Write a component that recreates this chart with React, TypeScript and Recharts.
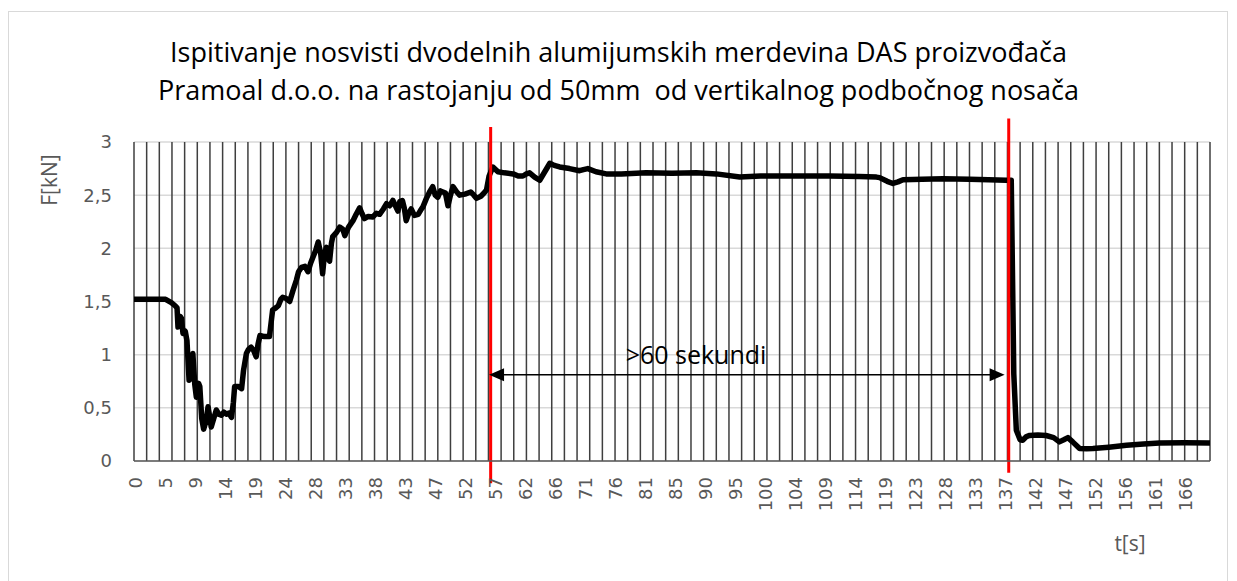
import { LineChart, Line, XAxis, YAxis, CartesianGrid, ReferenceLine } from 'recharts';

// measured force [kN] vs time [s]
const times = [
  0, 5, 5.9, 6.5, 6.8, 6.95, 7.3, 7.5, 7.74, 8.1, 8.37, 8.7, 9, 9.3, 9.6, 9.85, 10.2, 10.4, 10.7, 11,
  11.4, 11.7, 12, 12.2, 12.6, 13, 13.4, 13.8, 14.2, 14.6, 15, 15.4, 15.7, 15.9, 16.5, 17, 17.3, 17.75, 18.1, 18.5,
  18.9, 19.3, 19.6, 19.9, 20.6, 21.4, 21.9, 22.4, 22.8, 23.2, 23.5, 24, 24.6, 25.1, 25.65, 26, 26.45, 27, 27.5, 27.9,
  28.3, 28.7, 29.1, 29.5, 29.8, 30.1, 30.4, 30.7, 30.9, 31.2, 31.4, 32, 32.5, 33, 33.3, 33.9, 34.6, 35.1, 35.65, 36,
  36.4, 37, 37.75, 38.3, 38.8, 39.4, 39.9, 40.4, 40.9, 41.3, 41.7, 42, 42.4, 42.7, 43, 43.4, 43.8, 44.3, 44.9, 45.3,
  45.65, 46.2, 46.7, 47.2, 47.6, 48, 48.4, 48.8, 49.2, 49.6, 50, 50.4, 51, 51.45, 52.3, 53.2, 53.7, 54.1, 54.8, 55.3,
  55.7, 56.1, 56.7, 57.5, 58.5, 59.9, 60.7, 61.45, 62, 62.5, 63.3, 64.1, 64.9, 65.7, 66.4, 67.25, 68.8, 70.4, 71, 71.7,
  73, 74.6, 77, 80.9, 85, 88.85, 92, 95.7, 99, 102, 106, 109.9, 114.6, 117.3, 117.8, 119, 119.9, 120.7, 121.5, 124.5,
  127.8, 132, 135, 137.8, 138.6, 139, 139.4, 140, 140.4, 141, 141.5, 142.8, 144.1, 145.3, 146.2, 146.9, 147.55, 148.3, 149.4, 150.5,
  151.5, 154, 156.8, 159.5, 162, 166, 170,
];
const forces = [
  1.52, 1.52, 1.49, 1.46, 1.44, 1.26, 1.36, 1.34, 1.2, 1.22, 1.13, 0.76, 0.78, 1.01, 0.72, 0.6, 0.73, 0.7, 0.4, 0.3,
  0.38, 0.51, 0.4, 0.32, 0.4, 0.48, 0.44, 0.43, 0.46, 0.44, 0.45, 0.41, 0.55, 0.7, 0.7, 0.68, 0.85, 1.01, 1.05, 1.07,
  1.04, 0.98, 1.1, 1.18, 1.17, 1.17, 1.42, 1.44, 1.46, 1.52, 1.54, 1.53, 1.5, 1.6, 1.7, 1.78, 1.82, 1.83, 1.78, 1.86,
  1.92, 1.98, 2.06, 1.95, 1.76, 1.95, 2.01, 1.9, 1.88, 2.05, 2.11, 2.15, 2.2, 2.18, 2.12, 2.2, 2.26, 2.32, 2.38, 2.33,
  2.28, 2.3, 2.295, 2.33, 2.32, 2.37, 2.42, 2.4, 2.45, 2.4, 2.35, 2.44, 2.45, 2.38, 2.26, 2.33, 2.37, 2.31, 2.32, 2.36,
  2.39, 2.47, 2.53, 2.58, 2.5, 2.48, 2.54, 2.53, 2.52, 2.4, 2.5, 2.58, 2.53, 2.5, 2.51, 2.53, 2.5, 2.47, 2.49, 2.52,
  2.55, 2.68, 2.765, 2.72, 2.71, 2.7, 2.68, 2.68, 2.7, 2.71, 2.67, 2.64, 2.72, 2.8, 2.78, 2.765, 2.75, 2.73, 2.74, 2.75,
  2.72, 2.7, 2.7, 2.71, 2.705, 2.71, 2.7, 2.67, 2.68, 2.68, 2.68, 2.68, 2.675, 2.67, 2.665, 2.63, 2.61, 2.625, 2.645, 2.65,
  2.655, 2.65, 2.645, 2.64, 2.64, 0.82, 0.29, 0.2, 0.195, 0.23, 0.24, 0.245, 0.24, 0.22, 0.18, 0.2, 0.22, 0.18, 0.117, 0.115,
  0.117, 0.13, 0.148, 0.16, 0.17, 0.172, 0.17,
];

const xLabels = [
  '0', '5', '9', '14', '19', '24', '28', '33', '38', '43', '47', '52', '57', '62', '66', '71', '76', '81',
  '85', '90', '95', '100', '104', '109', '114', '119', '123', '128', '133', '137', '142', '147', '152', '156', '161', '166',
];
const yTicks = [0, 0.5, 1, 1.5, 2, 2.5, 3];
const titleLines = [
  'Ispitivanje nosvisti dvodelnih alumijumskih merdevina DAS proizvođača',
  'Pramoal d.o.o. na rastojanju od 50mm  od vertikalnog podbočnog nosača',
];
// start / end of the holding period (red markers)
const markerTimes = [56.35, 138.2];
const holdSpan = [56.1, 137.55];
const holdLabel = '>60 sekundi';

const T_MAX = 170;
const LABEL_STEP = 4.74; // category-label interval in seconds
const GRID_STEP = 2;

const data = times.map((t, i) => ({ t, f: forces[i] }));
const labelTicks = xLabels.map((_, i) => i * LABEL_STEP);
const gridTicks = Array.from({ length: T_MAX / GRID_STEP + 1 }, (_, i) => i * GRID_STEP);

const tickFont = { fontFamily: 'DejaVu Sans', fontSize: 18, fill: '#595959' };

const XTick = ({ x, y, index }: any) => (
  <text
    x={x + 1}
    y={y}
    transform={`rotate(-90 ${x + 1} ${y})`}
    textAnchor="end"
    dominantBaseline="central"
    {...tickFont}
  >
    {xLabels[index]}
  </text>
);

const Arrow = ({ x1, y1, x2 }: any) => (
  <g>
    <line x1={x1 + 12} y1={y1} x2={x2 - 12} y2={y1} stroke="#000" strokeWidth={1.5} />
    <polygon points={`${x1},${y1} ${x1 + 15},${y1 - 6.5} ${x1 + 15},${y1 + 6.5}`} fill="#000" />
    <polygon points={`${x2},${y1} ${x2 - 15},${y1 - 6.5} ${x2 - 15},${y1 + 6.5}`} fill="#000" />
  </g>
);

const App = () => {
  return (
    <div style={{ position: 'relative', width: 1221, height: 573, fontFamily: '"Open Sans"' }}>
      <div
        style={{
          position: 'absolute',
          left: 0,
          top: 3,
          width: 1220,
          height: 575,
          border: '1.5px solid #d9d9d9',
          boxSizing: 'border-box',
        }}
      />
      <LineChart
        width={1221}
        height={573}
        data={data}
        margin={{ top: 134, right: 19, bottom: 0, left: 0 }}
        style={{ position: 'absolute', left: 0, top: 0 }}
      >
        <CartesianGrid horizontal vertical={false} stroke="#d9d9d9" strokeWidth={1.5} />
        <CartesianGrid
          horizontal={false}
          vertical
          verticalValues={gridTicks}
          stroke="#3f3f3f"
          strokeWidth={1.5}
        />
        <XAxis
          dataKey="t"
          type="number"
          domain={[0, T_MAX]}
          ticks={labelTicks}
          interval={0}
          height={120}
          tick={<XTick />}
          tickLine={false}
          tickSize={0}
          tickMargin={16}
          axisLine={{ stroke: '#595959', strokeWidth: 1.5 }}
        />
        <YAxis
          width={126}
          domain={[0, 3]}
          ticks={yTicks}
          interval={0}
          tickFormatter={(v: number) => String(v).replace('.', ',')}
          tick={tickFont}
          tickLine={false}
          tickSize={0}
          tickMargin={22}
          axisLine={false}
        />
        <Line
          dataKey="f"
          type="linear"
          stroke="#000"
          strokeWidth={5.5}
          strokeLinejoin="round"
          dot={false}
          isAnimationActive={false}
        />
        <ReferenceLine
          segment={[{ x: markerTimes[0], y: 3.14 }, { x: markerTimes[0], y: -0.21 }]}
          stroke="#ff0000"
          strokeWidth={3}
          ifOverflow="visible"
        />
        <ReferenceLine
          segment={[{ x: markerTimes[1], y: 3.22 }, { x: markerTimes[1], y: -0.11 }]}
          stroke="#ff0000"
          strokeWidth={3}
          ifOverflow="visible"
        />
        <ReferenceLine
          segment={[{ x: holdSpan[0], y: 0.81 }, { x: holdSpan[1], y: 0.81 }]}
          ifOverflow="visible"
          shape={<Arrow />}
        />
      </LineChart>
      <div
        style={{
          position: 'absolute',
          left: 0,
          top: 25,
          width: 1221,
          textAlign: 'center',
          fontSize: 27,
          lineHeight: '37.6px',
          color: '#000',
        }}
      >
        {titleLines.map((l) => (
          <div key={l} style={{ whiteSpace: 'pre' }}>{l}</div>
        ))}
      </div>
      <div
        style={{
          position: 'absolute',
          left: 41,
          top: 172,
          transform: 'translate(-50%, -50%) rotate(-90deg)',
          fontSize: 21,
          color: '#595959',
          whiteSpace: 'nowrap',
        }}
      >
        F[kN]
      </div>
      <div
        style={{
          position: 'absolute',
          left: 1122,
          top: 535,
          transform: 'translate(-50%, -50%)',
          fontSize: 21,
          color: '#595959',
          whiteSpace: 'nowrap',
        }}
      >
        t[s]
      </div>
      <div
        style={{
          position: 'absolute',
          left: 688,
          top: 329,
          transform: 'translateX(-50%)',
          fontSize: 25,
          color: '#000',
          whiteSpace: 'nowrap',
        }}
      >
        {holdLabel}
      </div>
    </div>
  );
};

export default App;
